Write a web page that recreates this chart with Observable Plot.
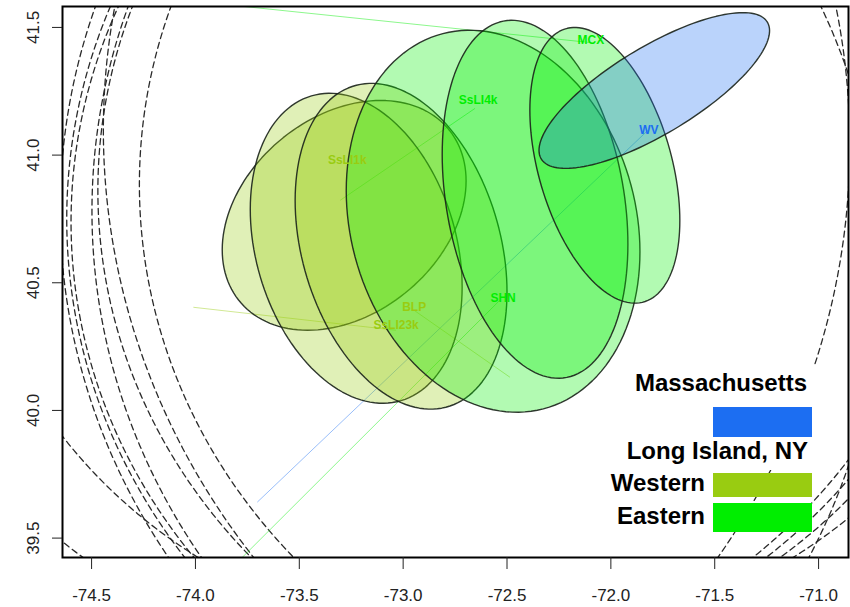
<!DOCTYPE html>
<html><head><meta charset="utf-8">
<script src="https://cdn.jsdelivr.net/npm/d3@7"></script>
<script src="https://cdn.jsdelivr.net/npm/@observablehq/plot@0.6"></script>
<style>
body{margin:0;background:#fff;font-family:"Liberation Sans",Arial,Helvetica,sans-serif}
#wrap{position:relative;width:850px;height:607px;overflow:hidden}
.bg{position:absolute;background:#fff}
.lt{position:absolute;font-weight:bold;font-size:24px;color:#000;white-space:nowrap;line-height:1}
.sw{position:absolute}
</style></head><body><div id="wrap"></div>
<script>
// Region colours
const regionNames = ["Massachusetts", "Western", "Eastern"];
const regionColors = ["#1c6ef2", "#99cc11", "#00ee00"];

// Ellipses (centre, half-extents in degrees, tilt correlation)
const ellipseRegion = ["Western","Western","Western","Eastern","Eastern","Eastern","Massachusetts"];
const ellipseLon   = [-73.284, -73.226, -73.010, -72.567, -72.365, -72.029, -71.791];
const ellipseLat   = [ 40.764,  40.635,  40.643,  40.741,  40.827,  40.960,  41.253];
const ellipseSdLon = [  0.587,   0.510,   0.510,   0.707,   0.447,   0.361,   0.555];
const ellipseSdLat = [  0.450,   0.607,   0.638,   0.748,   0.701,   0.540,   0.305];
const ellipseRho   = [  0.30,   -0.25,   -0.28,   -0.16,   -0.25,   -0.40,    0.768];

// Site labels
const siteName   = ["SsLI1k","SsLI4k","MCX","WV","SHN","BLP","SsLI23k"];
const siteRegion = ["Western","Eastern","Eastern","Massachusetts","Eastern","Western","Western"];
const siteLon    = [-73.269, -72.639, -72.096, -71.817, -72.519, -72.947, -73.034];
const siteLat    = [ 40.979,  41.214,  41.449,  41.097,  40.439,  40.404,  40.334];

// Faint track lines
const trackRegion = ["Eastern","Massachusetts","Eastern","Eastern","Western","Western"];
const trackLon0 = [-73.822, -73.702, -73.303, -73.860, -74.010, -72.947];
const trackLat0 = [ 39.386,  39.641,  40.823,  41.590,  40.404,  40.392];
const trackLon1 = [-72.534, -71.822, -72.654, -72.101, -73.034, -72.486];
const trackLat1 = [ 40.432,  41.097,  41.183,  41.441,  40.314,  40.130];

// Dashed distance rings (centre lon/lat, radius in degrees of latitude)
const ringLon    = [-71.301,-71.639,-71.764,-71.194,-71.656,-71.389,-70.672,-74.046,-74.770,-73.169,-73.038,-72.863,-72.555];
const ringLat    = [ 40.784, 40.750, 40.738, 40.780, 40.861, 40.884, 41.098, 40.550, 41.038, 41.038, 41.038, 41.038, 41.038];
const ringRadius = [  2.537,  2.258,  2.148,  2.502,  2.128,  2.178,  2.842,  2.542,  2.957,  2.135,  2.102,  2.051,  1.942];

// Axis ticks
const xTicks = [-74.5, -74.0, -73.5, -73.0, -72.5, -72.0, -71.5, -71.0];
const yTicks = [39.5, 40.0, 40.5, 41.0, 41.5];

const colorOf = r => regionColors[regionNames.indexOf(r)];

const ellipsePts = [];
ellipseLon.forEach((lon, i) => {
  const s = Math.sqrt(1 - ellipseRho[i] ** 2);
  for (let k = 0; k < 144; k++) {
    const t = 2 * Math.PI * k / 144;
    ellipsePts.push({id: i, fill: colorOf(ellipseRegion[i]),
      lon: lon + ellipseSdLon[i] * Math.cos(t),
      lat: ellipseLat[i] + ellipseSdLat[i] * (ellipseRho[i] * Math.cos(t) + s * Math.sin(t))});
  }
});

const ringPts = [];
ringLon.forEach((lon, i) => {
  const rx = ringRadius[i] / Math.cos(ringLat[i] * Math.PI / 180);
  for (let k = 0; k <= 720; k++) {
    const t = 2 * Math.PI * k / 720;
    ringPts.push({id: i, lon: lon + rx * Math.cos(t), lat: ringLat[i] + ringRadius[i] * Math.sin(t)});
  }
});

const tracks = trackRegion.map((r, i) => ({c: colorOf(r), x1: trackLon0[i], y1: trackLat0[i], x2: trackLon1[i], y2: trackLat1[i]}));
const sites = siteName.map((n, i) => ({n, c: colorOf(siteRegion[i]), lon: siteLon[i], lat: siteLat[i]}));

const chart = Plot.plot({
  width: 850, height: 607,
  marginLeft: 62, marginRight: 2, marginTop: 6, marginBottom: 50,
  x: {domain: [-74.64, -70.856]},
  y: {domain: [39.424, 41.582]},
  color: {type: "identity"},
  style: {fontFamily: "Liberation Sans, Arial, Helvetica, sans-serif", background: "white", color: "#222"},
  marks: [
    Plot.line(ringPts, {x: "lon", y: "lat", z: "id", stroke: "#2a2a2a", strokeWidth: 1.3, strokeDasharray: "6,4", clip: true}),
    Plot.link(tracks, {x1: "x1", y1: "y1", x2: "x2", y2: "y2", stroke: "c", strokeOpacity: 0.45, strokeWidth: 1, clip: true}),
    Plot.line(ellipsePts, {x: "lon", y: "lat", z: "id", fill: "fill", fillOpacity: 0.3, stroke: "#1a221a", strokeOpacity: 0.9, strokeWidth: 1.4, curve: "linear-closed"}),
    Plot.text(sites, {x: "lon", y: "lat", text: "n", fill: "c", fontWeight: "bold", fontSize: 12}),
    Plot.frame({stroke: "black", strokeWidth: 2}),
    Plot.axisX({ticks: xTicks, tickFormat: d => d.toFixed(1), tickSize: 12, tickPadding: 19, fontSize: 17, label: null, stroke: "#222"}),
    Plot.axisY({ticks: yTicks, tickFormat: d => d.toFixed(1), tickSize: 10, tickPadding: 14, tickRotate: -90, fontSize: 17, label: null, stroke: "#222"})
  ]
});
const wrap = document.getElementById("wrap");
wrap.appendChild(chart);

// Legend overlay inside plot
function add(cls, style, text) {
  const d = document.createElement("div");
  d.className = cls;
  Object.assign(d.style, style);
  if (text) d.textContent = text;
  wrap.appendChild(d);
  return d;
}
add("bg", {left: "607px", top: "365px", width: "208px", height: "105px"});
add("bg", {left: "607px", top: "470px", width: "106px", height: "62px"});
const legendRows = [
  {text: "Massachusetts", right: 43, top: 371, color: regionColors[0], swTop: 407, swH: 30},
  {text: "Long Island, NY", right: 42, top: 439, color: null},
  {text: "Western", right: 145, top: 471, color: regionColors[1], swTop: 473, swH: 24},
  {text: "Eastern", right: 145, top: 504, color: regionColors[2], swTop: 503, swH: 29}
];
legendRows.forEach(r => {
  add("lt", {right: r.right + "px", top: r.top + "px"}, r.text);
  if (r.color) add("sw", {left: "713px", top: r.swTop + "px", width: "99px", height: r.swH + "px", background: r.color});
});
</script>
</body></html>
